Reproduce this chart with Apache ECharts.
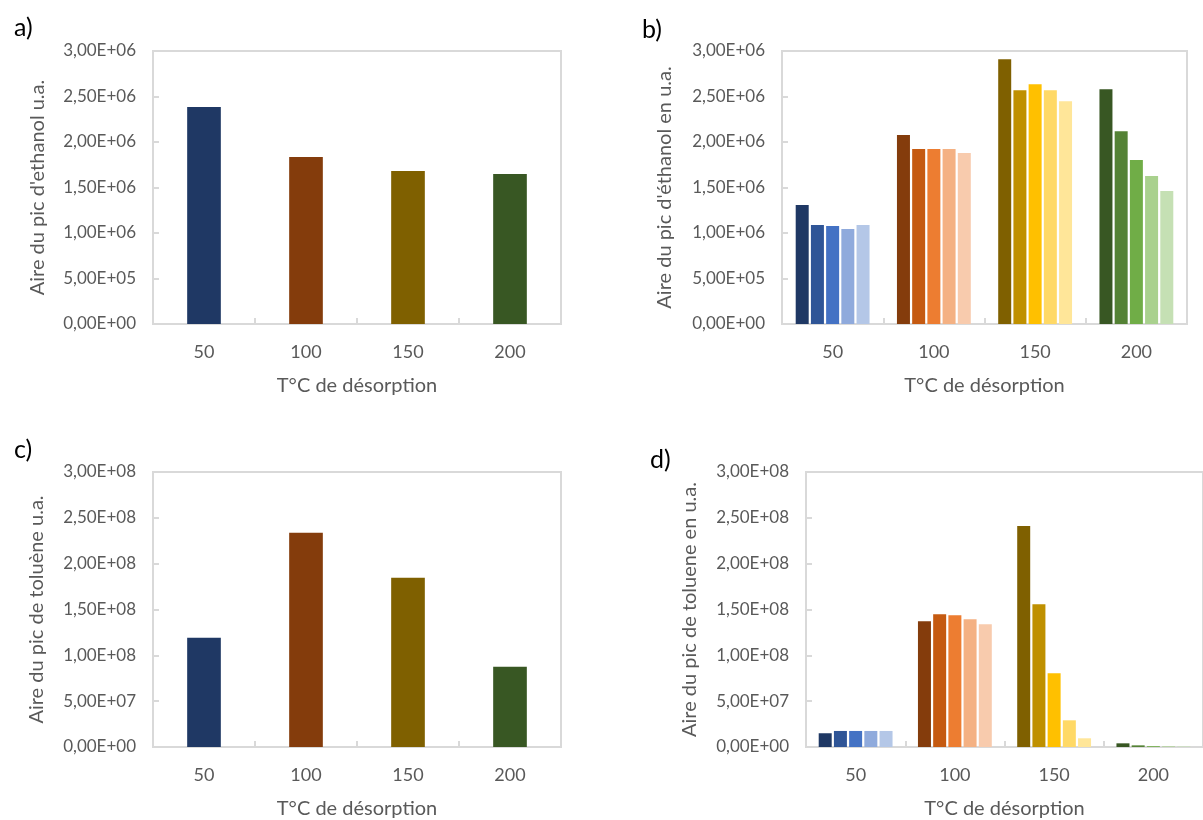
<!DOCTYPE html>
<html>
<head>
<meta charset="utf-8">
<script src="https://cdn.jsdelivr.net/npm/echarts@6/dist/echarts.min.js"></script>
<style>
html,body{margin:0;padding:0;background:#fff;}
#chart{width:1203px;height:820px;}
</style>
</head>
<body>
<div id="chart"></div>
<script>
// ---- data ----
const categories = ['50', '100', '150', '200'];
// panel a: ethanol peak area (mean)
const ethanolMean = [2.385e6, 1.836e6, 1.682e6, 1.649e6];
// panel b: ethanol peak area, 5 successive values per temperature
const ethanol50  = [1.308e6, 1.089e6, 1.078e6, 1.045e6, 1.089e6];
const ethanol100 = [2.076e6, 1.922e6, 1.922e6, 1.922e6, 1.878e6];
const ethanol150 = [2.909e6, 2.569e6, 2.635e6, 2.569e6, 2.448e6];
const ethanol200 = [2.580e6, 2.119e6, 1.801e6, 1.626e6, 1.462e6];
// panel c: toluene peak area (mean)
const tolueneMean = [1.193e8, 2.338e8, 1.847e8, 0.876e8];
// panel d: toluene peak area, 5 successive values per temperature
const toluene50  = [1.50e7, 1.75e7, 1.75e7, 1.75e7, 1.75e7];
const toluene100 = [1.373e8, 1.449e8, 1.438e8, 1.394e8, 1.340e8];
const toluene150 = [2.410e8, 1.558e8, 0.805e8, 0.291e8, 0.095e8];
const toluene200 = [4.0e6, 1.8e6, 0.9e6, 0.7e6, 0.6e6];

// ---- styles ----
const mainColors = ['#1F3864', '#843C0C', '#7F6000', '#385723'];
const shadeColors = [
  ['#1F3864', '#2F5597', '#4472C4', '#8FAADC', '#B4C7E7'],
  ['#843C0C', '#C55A11', '#ED7D31', '#F4B183', '#F8CBAD'],
  ['#7F6000', '#BF9000', '#FFC000', '#FFD966', '#FFE699'],
  ['#385723', '#548235', '#70AD47', '#A9D18E', '#C5E0B4']
];
const FONT = 'Lato';
const gray = '#595959';
const lineGray = '#d9d9d9';

function sci(v) {
  if (v === 0) return '0,00E+00';
  let e = Math.floor(Math.log10(Math.abs(v)) + 1e-9);
  let m = v / Math.pow(10, e);
  let s = m.toFixed(2).replace('.', ',');
  let es = (e < 0 ? '-' : '+') + String(Math.abs(e)).padStart(2, '0');
  return s + 'E' + es;
}

const grids = [
  {left: 153, top: 51, width: 408, height: 273},
  {left: 782, top: 51, width: 405, height: 273},
  {left: 153, top: 472, width: 408, height: 275},
  {left: 806, top: 472, width: 404, height: 275}
];
const yNames = [
  "Aire du pic d'ethanol u.a.",
  "Aire du pic d'éthanol en u.a.",
  "Aire du pic de toluène u.a.",
  "Aire du pic de toluene en u.a."
];
const yMax = [3e6, 3e6, 3e8, 3e8];
const yNameGap = [105, 107, 106, 106];

const option = {
  animation: false,
  backgroundColor: '#fff',
  title: [
    {text: 'a)', left: 9, top: 10},
    {text: 'b)', left: 637, top: 12},
    {text: 'c)', left: 9, top: 432},
    {text: 'd)', left: 645, top: 442}
  ].map(t => Object.assign(t, {textStyle: {fontFamily: FONT, fontSize: 25, fontWeight: 'normal', color: '#000'}})),
  grid: grids.map(g => Object.assign({show: true, borderColor: lineGray, borderWidth: 2, backgroundColor: 'transparent'}, g)),
  xAxis: grids.map((g, i) => ({
    type: 'category',
    gridIndex: i,
    data: categories,
    name: 'T°C de désorption',
    nameLocation: 'middle',
    nameGap: 52,
    nameTextStyle: {fontFamily: FONT, fontSize: 20, color: gray},
    axisLine: {show: true, lineStyle: {color: lineGray, width: 2}},
    axisTick: {show: true, inside: true, length: 6, lineStyle: {color: lineGray, width: 2}},
    axisLabel: {fontFamily: FONT, fontSize: 18, color: gray, margin: 19},
    splitLine: {show: false}
  })),
  yAxis: grids.map((g, i) => ({
    type: 'value',
    gridIndex: i,
    min: 0,
    max: yMax[i],
    interval: yMax[i] / 6,
    name: yNames[i],
    nameLocation: 'middle',
    nameGap: yNameGap[i],
    nameTextStyle: {fontFamily: FONT, fontSize: 20, color: gray},
    axisLine: {show: true, lineStyle: {color: lineGray, width: 2}},
    axisTick: {show: true, inside: true, length: 6, lineStyle: {color: lineGray, width: 2}},
    axisLabel: {fontFamily: FONT, fontSize: 17, color: gray, margin: 17, formatter: sci},
    splitLine: {show: false}
  })),
  series: []
};

// panels a & c: one series coloured by category
[[ethanolMean, 0], [tolueneMean, 2]].forEach(([vals, gi]) => {
  option.series.push({
    type: 'bar',
    xAxisIndex: gi, yAxisIndex: gi,
    barWidth: '33%',
    data: vals.map((v, k) => ({value: v, itemStyle: {color: mainColors[k]}}))
  });
});

// panels b & d: five series, colour shade by category
[[[ethanol50, ethanol100, ethanol150, ethanol200], 1],
 [[toluene50, toluene100, toluene150, toluene200], 3]].forEach(([groups, gi]) => {
  for (let r = 0; r < 5; r++) {
    option.series.push({
      type: 'bar',
      xAxisIndex: gi, yAxisIndex: gi,
      barWidth: 13,
      barGap: '17%',
      data: groups.map((grp, k) => ({value: grp[r], itemStyle: {color: shadeColors[k][r]}}))
    });
  }
});

const chart = echarts.init(document.getElementById('chart'), null, {renderer: 'canvas'});
chart.setOption(option);
</script>
</body>
</html>
